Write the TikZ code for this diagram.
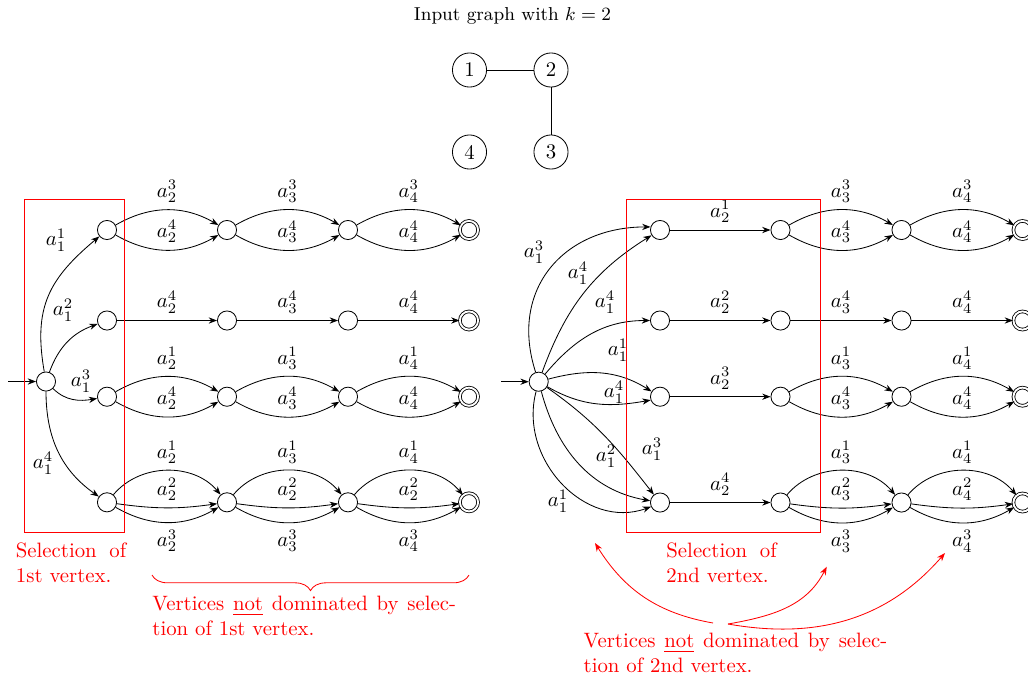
\documentclass[tikz,border=0pt]{standalone}
\usetikzlibrary{arrows.meta,decorations.pathreplacing}
\begin{document}
\begin{tikzpicture}[x=0.4808pt,y=0.4808pt,
  st/.style={circle,draw,minimum size=9.2pt,inner sep=0pt},
  acc/.style={circle,draw,minimum size=8.74pt,inner sep=0pt,double,double distance=0.9pt},
  gv/.style={circle,draw,minimum size=16.4pt,inner sep=0pt},
  tr/.style={-{Stealth[length=4pt,width=3pt]}},
  redarr/.style={red,-{Stealth[length=4pt,width=3pt]}},
  redbox/.style={draw=red},
  redtxt/.style={text=red,align=justify,inner sep=0pt,anchor=north west},
]
\useasboundingbox (0,0) rectangle (1028,-679);
\clip (0,0) rectangle (1028,-679);

% ---------- input graph ----------
\node[font=\small] (title) at (512.5,-16) {Input graph with $k = 2$};
\node[gv] (g1) at (469.5,-70) {1};
\node[gv] (g2) at (551,-70) {2};
\node[gv] (g3) at (551,-152) {3};
\node[gv] (g4) at (469.5,-152) {4};
\draw (g1) -- (g2);
\draw (g2) -- (g3);

% ---------- left automaton ----------
\node[st] (s1) at (46,-381.5) {};
\coordinate (in1) at (8,-381.5);
\draw[tr] (in1) -- (s1);

\node[st] (L11) at (107,-230) {};
\node[st] (L12) at (227,-230) {};
\node[st] (L13) at (348,-230) {};
\node[acc] (L14) at (469,-230) {};
\node[st] (L21) at (107,-320.5) {};
\node[st] (L22) at (227,-320.5) {};
\node[st] (L23) at (348,-320.5) {};
\node[acc] (L24) at (469,-320.5) {};
\node[st] (L31) at (107,-396.7) {};
\node[st] (L32) at (227,-396.7) {};
\node[st] (L33) at (348,-396.7) {};
\node[acc] (L34) at (469,-396.7) {};
\node[st] (L41) at (107,-502.3) {};
\node[st] (L42) at (227,-502.3) {};
\node[st] (L43) at (348,-502.3) {};
\node[acc] (L44) at (469,-502.3) {};

\draw[tr] (s1) to[out=100,in=220,looseness=1.15] (L11);
\draw[tr] (s1) to[out=70,in=200] (L21);
\draw[tr] (s1) to[out=-45,in=190] (L31);
\draw[tr] (s1) to[out=-90,in=145] (L41);
\node (la1) at (56,-240) {$a_1^1$};
\node (la2) at (63,-310) {$a_1^2$};
\node (la3) at (81,-381) {$a_1^3$};
\node (la4) at (43,-463) {$a_1^4$};

% row 1
\draw[tr] (L11) to[bend left=30] node[above] {$a_2^3$} (L12);
\draw[tr] (L11) to[bend right=30] node[above] {$a_2^4$} (L12);
\draw[tr] (L12) to[bend left=30] node[above] {$a_3^3$} (L13);
\draw[tr] (L12) to[bend right=30] node[above] {$a_3^4$} (L13);
\draw[tr] (L13) to[bend left=30] node[above] {$a_4^3$} (L14);
\draw[tr] (L13) to[bend right=30] node[above] {$a_4^4$} (L14);
% row 2
\draw[tr] (L21) -- node[above] {$a_2^4$} (L22);
\draw[tr] (L22) -- node[above] {$a_3^4$} (L23);
\draw[tr] (L23) -- node[above] {$a_4^4$} (L24);
% row 3
\draw[tr] (L31) to[bend left=30] node[above] {$a_2^1$} (L32);
\draw[tr] (L31) to[bend right=30] node[above] {$a_2^4$} (L32);
\draw[tr] (L32) to[bend left=30] node[above] {$a_3^1$} (L33);
\draw[tr] (L32) to[bend right=30] node[above] {$a_3^4$} (L33);
\draw[tr] (L33) to[bend left=30] node[above] {$a_4^1$} (L34);
\draw[tr] (L33) to[bend right=30] node[above] {$a_4^4$} (L34);
% row 4
\draw[tr] (L41) to[bend left=50] node[above] {$a_2^1$} (L42);
\draw[tr] (L41) to[bend right=8] node[above] {$a_2^2$} (L42);
\draw[tr] (L41) to[bend right=30] node[below] {$a_2^3$} (L42);
\draw[tr] (L42) to[bend left=50] node[above] {$a_3^1$} (L43);
\draw[tr] (L42) to[bend right=8] node[above] {$a_2^2$} (L43);
\draw[tr] (L42) to[bend right=30] node[below] {$a_3^3$} (L43);
\draw[tr] (L43) to[bend left=50] node[above] {$a_4^1$} (L44);
\draw[tr] (L43) to[bend right=8] node[above] {$a_2^2$} (L44);
\draw[tr] (L43) to[bend right=30] node[below] {$a_4^3$} (L44);

\draw[redbox] (24,-199) rectangle (124,-532);
\node[redtxt,text width=53pt] (sel1) at (15.5,-542) {Selection of\linebreak 1st vertex.};
\draw[red,decorate,decoration={brace,mirror,amplitude=7.5pt}] (152,-575) -- (469,-575);
\node[redtxt,text width=146pt] (nd1) at (152,-596) {Vertices \underline{not} dominated by selec-\linebreak tion of 1st vertex.};

% ---------- right automaton ----------
\node[st] (s2) at (538.7,-381.7) {};
\coordinate (in2) at (501,-381.7);
\draw[tr] (in2) -- (s2);

\node[st] (R11) at (660,-230) {};
\node[st] (R12) at (780.5,-230) {};
\node[st] (R13) at (901.5,-230) {};
\node[acc] (R14) at (1022.5,-230) {};
\node[st] (R21) at (660,-320.5) {};
\node[st] (R22) at (780.5,-320.5) {};
\node[st] (R23) at (901.5,-320.5) {};
\node[acc] (R24) at (1022.5,-320.5) {};
\node[st] (R31) at (660,-396.7) {};
\node[st] (R32) at (780.5,-396.7) {};
\node[st] (R33) at (901.5,-396.7) {};
\node[acc] (R34) at (1022.5,-396.7) {};
\node[st] (R41) at (660,-502.5) {};
\node[st] (R42) at (780.5,-502.5) {};
\node[st] (R43) at (901.5,-502.5) {};
\node[acc] (R44) at (1022.5,-502.5) {};

\draw[tr] (s2) to[out=108,in=180,looseness=1.2] (R11.162);
\draw[tr] (s2) to[out=70,in=212] (R11);
\draw[tr] (s2) to[out=50,in=180] (R21);
\draw[tr] (s2) to[out=15,in=148] (R31);
\draw[tr] (s2) to[out=-30,in=190] (R31.200);
\draw[tr] (s2) to[out=-35,in=128] (R41);
\draw[tr] (s2) to[out=-75,in=170] (R41);
\draw[tr] (s2) to[out=-105,in=200,looseness=1.1] (R41.205);
\node (ra1) at (534,-252) {$a_1^3$};
\node (ra2) at (578,-273) {$a_1^4$};
\node (ra3) at (605,-302) {$a_1^4$};
\node (ra4) at (618,-350) {$a_1^1$};
\node (ra5) at (614,-392) {$a_1^4$};
\node (ra6) at (652,-449) {$a_1^3$};
\node (ra7) at (606,-456) {$a_1^2$};
\node (ra8) at (558,-501) {$a_1^1$};

\draw[tr] (R11) -- node[above] {$a_2^1$} (R12);
\draw[tr] (R21) -- node[above] {$a_2^2$} (R22);
\draw[tr] (R31) -- node[above] {$a_2^3$} (R32);
\draw[tr] (R41) -- node[above] {$a_2^4$} (R42);
% row 1
\draw[tr] (R12) to[bend left=30] node[above] {$a_3^3$} (R13);
\draw[tr] (R12) to[bend right=30] node[above] {$a_3^4$} (R13);
\draw[tr] (R13) to[bend left=30] node[above] {$a_4^3$} (R14);
\draw[tr] (R13) to[bend right=30] node[above] {$a_4^4$} (R14);
% row 2
\draw[tr] (R22) -- node[above] {$a_3^4$} (R23);
\draw[tr] (R23) -- node[above] {$a_4^4$} (R24);
% row 3
\draw[tr] (R32) to[bend left=30] node[above] {$a_3^1$} (R33);
\draw[tr] (R32) to[bend right=30] node[above] {$a_3^4$} (R33);
\draw[tr] (R33) to[bend left=30] node[above] {$a_4^1$} (R34);
\draw[tr] (R33) to[bend right=30] node[above] {$a_4^4$} (R34);
% row 4
\draw[tr] (R42) to[bend left=50] node[above] {$a_3^1$} (R43);
\draw[tr] (R42) to[bend right=8] node[above] {$a_3^2$} (R43);
\draw[tr] (R42) to[bend right=30] node[below] {$a_3^3$} (R43);
\draw[tr] (R43) to[bend left=50] node[above] {$a_4^1$} (R44);
\draw[tr] (R43) to[bend right=8] node[above] {$a_4^2$} (R44);
\draw[tr] (R43) to[bend right=30] node[below] {$a_4^3$} (R44);

\draw[redbox] (626.5,-199.5) rectangle (820,-532);
\node[redtxt,text width=53pt] (sel2) at (666,-542) {Selection of\linebreak 2nd vertex.};
\node[redtxt,text width=146pt] (nd2) at (583.3,-633) {Vertices \underline{not} dominated by selec-\linebreak tion of 2nd vertex.};

\coordinate (p1) at (713,-623);
\coordinate (p2) at (728,-624);
\coordinate (t1) at (595,-543);
\coordinate (t2) at (826.7,-566.7);
\coordinate (t3) at (945,-553);
\draw[redarr] (p1) to[out=170,in=-58] (t1);
\draw[redarr] (p2) to[out=10,in=-117] (t2);
\draw[redarr] (p2) to[out=-10,in=-131] (t3);
\end{tikzpicture}
\end{document}
